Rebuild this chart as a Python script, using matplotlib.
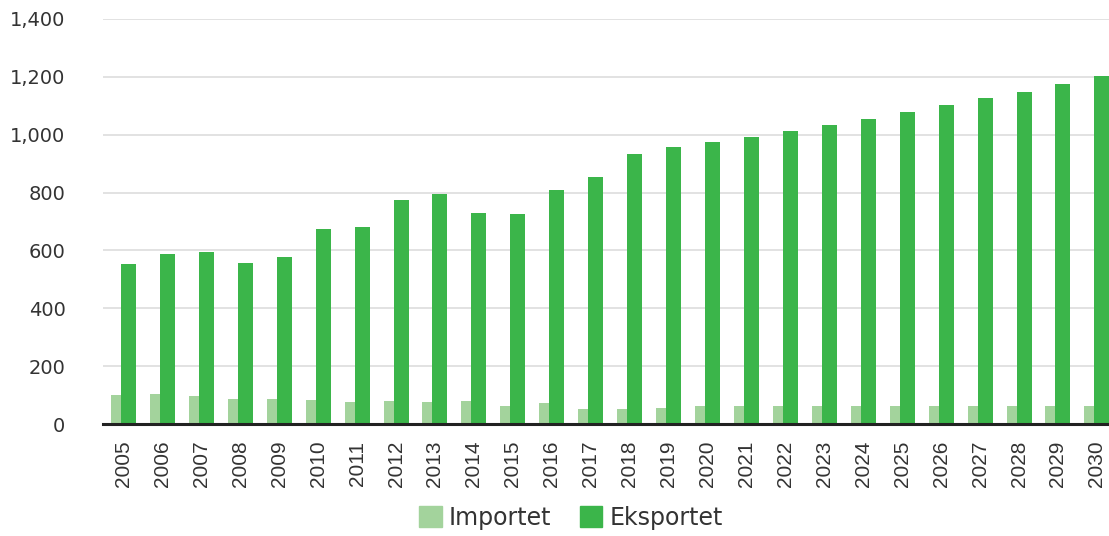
import numpy as np
import matplotlib
matplotlib.use("Agg")
import matplotlib.pyplot as plt
from matplotlib.patches import Patch

# data
years = [str(y) for y in range(2005, 2031)]
importet = [100, 104, 97, 86, 86, 83, 76, 79, 76, 79, 62, 73, 52, 52, 55,
            62, 62, 62, 62, 62, 62, 62, 62, 62, 62, 62]
eksportet = [553, 588, 595, 557, 577, 674, 681, 774, 795, 729, 726, 809, 854,
             933, 957, 975, 992, 1013, 1034, 1055, 1077, 1104, 1126, 1149,
             1177, 1203]
yticks = [0, 200, 400, 600, 800, 1000, 1200, 1400]

c_imp = '#a3d39c'
c_eks = '#3bb54a'

fig = plt.figure(figsize=(11.09, 5.36), dpi=100)
ax = fig.add_axes([103 / 1109, 1 - 424 / 536, 1 - 103 / 1109, (424 - 19) / 536])

x = np.arange(len(years))
ax.bar(x - 0.193, importet, width=0.257, color=c_imp, zorder=2)
ax.bar(x + 0.128, eksportet, width=0.385, color=c_eks, zorder=3)

ax.set_ylim(0, 1400)
ax.set_xlim(-0.526, 25.31)
ax.set_yticks(yticks)
ax.set_yticklabels([f'{v:,}' for v in yticks], fontsize=14, color='#333333',
                   family='DejaVu Sans')
ax.set_xticks(x)
ax.set_xticklabels(years, rotation=90, fontsize=15, color='#333333',
                   family='Liberation Sans')
ax.tick_params(axis='both', length=0)
ax.tick_params(axis='y', pad=27)
ax.tick_params(axis='x', pad=12)

ax.grid(axis='y', color='#dddddd', linewidth=1.2, zorder=0)
ax.set_axisbelow(True)
for s in ['top', 'right', 'left']:
    ax.spines[s].set_visible(False)
ax.spines['bottom'].set_color('#222222')
ax.spines['bottom'].set_linewidth(2.2)
ax.spines['bottom'].set_zorder(4)

# legend sits at the very bottom edge, as in the reference
handles = [Patch(color=c_imp, label='Importet'), Patch(color=c_eks, label='Eksportet')]
fig.legend(handles=handles, loc='lower center', bbox_to_anchor=(571 / 1109, -0.028),
           ncol=2, frameon=False, prop={'family': 'DejaVu Sans', 'size': 17},
           handlelength=0.95, handleheight=0.95, handletextpad=0.3, columnspacing=1.2,
           labelcolor='#333333')

fig.savefig('out.png', dpi=100)
